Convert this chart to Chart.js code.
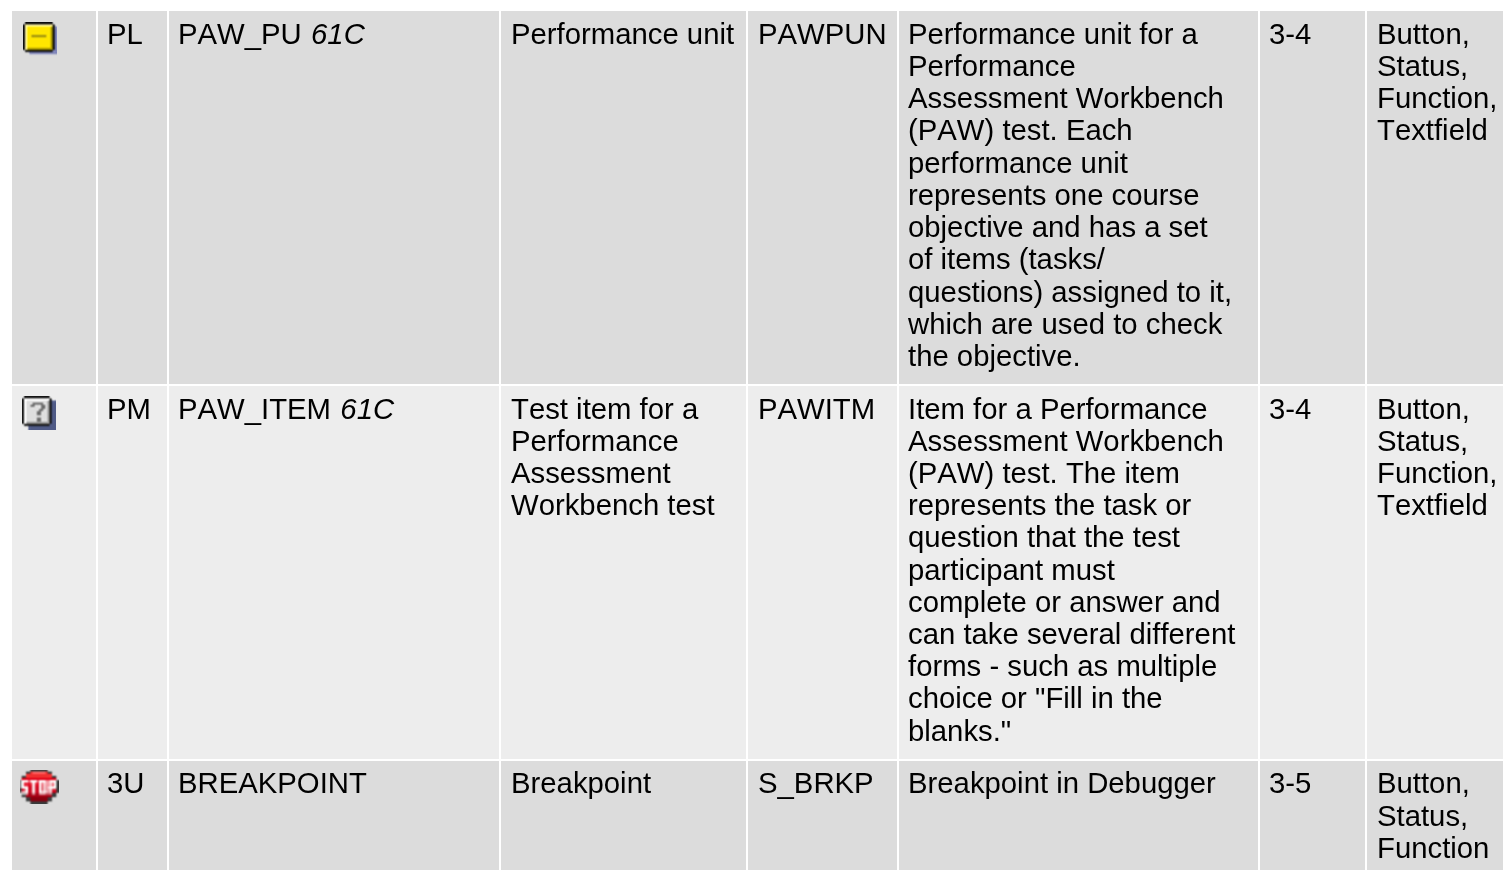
<!DOCTYPE html>
<html lang="en">
<head>
<meta charset="UTF-8" />
<title>SAP icons</title>
<script src="https://cdn.jsdelivr.net/npm/chart.js@4/dist/chart.umd.min.js"></script>
<style>
   html, body { margin: 0; padding: 0; background: #fff; overflow: hidden; }
   canvas { display: block; }
</style>
</head>
<body>
<canvas id="chart" width="1503" height="870"></canvas>
<script>
// table contents, one entry per row
const codes = ['PL', 'PM', '3U'];
const names = ['PAW_PU', 'PAW_ITEM', 'BREAKPOINT'];
const nameSuffixes = ['61C', '61C', ''];
const shortTexts = [
   ['Performance unit'],
   ['Test item for a', 'Performance', 'Assessment', 'Workbench test'],
   ['Breakpoint'],
];
const infoNames = ['PAWPUN', 'PAWITM', 'S_BRKP'];
const descriptions = [
   ['Performance unit for a', 'Performance', 'Assessment Workbench', '(PAW) test. Each', 'performance unit', 'represents one course', 'objective and has a set', 'of items (tasks/', 'questions) assigned to it,', 'which are used to check', 'the objective.'],
   ['Item for a Performance', 'Assessment Workbench', '(PAW) test. The item', 'represents the task or', 'question that the test', 'participant must', 'complete or answer and', 'can take several different', 'forms - such as multiple', 'choice or "Fill in the', 'blanks."'],
   ['Breakpoint in Debugger'],
];
const releases = ['3-4', '3-4', '3-5'];
const usages = [
   ['Button,', 'Status,', 'Function,', 'Textfield'],
   ['Button,', 'Status,', 'Function,', 'Textfield'],
   ['Button,', 'Status,', 'Function'],
];

// table grid on the 1503x870 page
const columnStarts = [12, 98, 169, 501, 748, 899, 1260, 1367];
const columnEnds = [96, 167, 499, 746, 897, 1258, 1365, 1503];
const textInsets = [0, 9, 9, 10, 10, 9, 9, 10];
const rowStarts = [11, 386, 761];
const rowEnds = [384, 759, 870];
const firstBaselines = [32.85, 32.6, 32.4];
const rowColors = ['#dcdcdc', '#ededed', '#dcdcdc'];

const FONT_SIZE = 29.3;
const LINE_HEIGHT = 32.21;
const TEXT_FONT = 'Liberation Sans';
const ICON_SCALE = 2.15;
const SUFFIX_GAP = 1.2;

// the icons are small pixel images in the original, so draw them small and scale up
function pixelIcon(w, h, rects) {
   const small = document.createElement('canvas');
   small.width = w;
   small.height = h;
   const g = small.getContext('2d');
   rects.forEach(([color, x, y, rw, rh]) => {
      g.fillStyle = color;
      g.fillRect(x, y, rw, rh);
   });
   const big = document.createElement('canvas');
   big.width = Math.round(w * ICON_SCALE);
   big.height = Math.round(h * ICON_SCALE);
   const b = big.getContext('2d');
   b.imageSmoothingEnabled = true;
   b.imageSmoothingQuality = 'high';
   b.drawImage(small, 0, 0, big.width, big.height);
   return big;
}

const iconYellow = pixelIcon(16, 16, [
   ['#7e84b8', 3, 2, 13, 13],
   ['#111111', 1, 0, 13, 14],
   ['#111111', 0, 1, 15, 12],
   ['#ffe600', 1, 1, 13, 12],
   ['#fff59a', 1, 1, 13, 1],
   ['#fff59a', 1, 1, 1, 12],
   ['#a89800', 2, 12, 12, 1],
   ['#a89800', 13, 2, 1, 11],
   ['#9c9010', 4, 6, 7, 1],
]);

const iconHelp = pixelIcon(16, 16, [
   ['#4f5a86', 3, 2, 13, 14],
   ['#1a1a1a', 1, 0, 12, 14],
   ['#1a1a1a', 0, 1, 14, 12],
   ['#dedede', 1, 1, 12, 12],
   ['#ffffff', 1, 1, 12, 1],
   ['#ffffff', 1, 1, 1, 12],
   ['#9a9a9a', 2, 12, 11, 1],
   ['#9a9a9a', 12, 2, 1, 11],
   ['#747474', 5, 3, 5, 1],
   ['#747474', 4, 4, 2, 1],
   ['#747474', 9, 4, 2, 2],
   ['#747474', 8, 6, 2, 1],
   ['#747474', 7, 7, 2, 2],
   ['#747474', 7, 10, 2, 2],
]);

const iconStop = pixelIcon(18, 16, [
   ['#3a3a3a', 5, 0, 8, 16],
   ['#3a3a3a', 3, 1, 12, 14],
   ['#3a3a3a', 1, 3, 16, 10],
   ['#3a3a3a', 0, 5, 18, 6],
   ['#f03030', 5, 1, 8, 3],
   ['#f03030', 3, 2, 12, 2],
   ['#ff6a6a', 6, 1, 6, 1],
   ['#e00018', 1, 4, 16, 4],
   ['#cc0018', 1, 8, 16, 3],
   ['#a80014', 3, 11, 12, 2],
   ['#880010', 5, 13, 8, 2],
   // S
   ['#ffffff', 0.6, 5, 3.4, 1.2], ['#ffffff', 0.6, 6, 1.4, 2], ['#ffffff', 0.6, 7.8, 3.4, 1.2],
   ['#ffffff', 2.6, 8.6, 1.4, 2.4], ['#ffffff', 0.6, 10.4, 3.4, 1.2],
   // T
   ['#ffffff', 4.6, 5, 3.8, 1.2], ['#ffffff', 5.8, 6, 1.4, 5.6],
   // O
   ['#ffffff', 9, 5, 3.6, 1.2], ['#ffffff', 9, 6, 1.4, 5], ['#ffffff', 11.2, 6, 1.4, 5], ['#ffffff', 9, 10.4, 3.6, 1.2],
   // P
   ['#ffffff', 13.4, 5, 3.6, 1.2], ['#ffffff', 13.4, 6, 1.4, 5.6], ['#ffffff', 15.6, 6, 1.4, 2.4], ['#ffffff', 13.4, 8, 3.6, 1.2],
]);

const rowIcons = [iconYellow, iconHelp, iconStop];
const iconX = [39.9, 38.9, 39];
const iconY = [39.3, 413.2, 786.5];

// each row is one dataset of floating bars, so it can have its own height
const rowDatasets = codes.map((code, r) => ({
   type: 'bar',
   label: code,
   stack: 'table',
   data: columnStarts.map((start, c) => ({
      x: [start, columnEnds[c]],
      y: (rowStarts[r] + rowEnds[r]) / 2,
   })),
   backgroundColor: rowColors[r],
   barThickness: rowEnds[r] - rowStarts[r],
   inflateAmount: 0,
   borderWidth: 0,
}));

const iconDataset = {
   type: 'scatter',
   label: 'icons',
   order: -1,
   data: codes.map((code, r) => ({ x: iconX[r], y: iconY[r] })),
   pointStyle: rowIcons,
   pointRadius: 10,
   showLine: false,
};

function drawLines(ctx, chart, column, row, lines) {
   const sx = chart.scales.x;
   const sy = chart.scales.y;
   lines.forEach((line, i) => {
      ctx.fillText(
         line,
         sx.getPixelForValue(columnStarts[column] + textInsets[column]),
         sy.getPixelForValue(rowStarts[row] + firstBaselines[row] + i * LINE_HEIGHT)
      );
   });
}

const cellText = {
   id: 'cellText',
   afterDatasetsDraw(chart) {
      const ctx = chart.ctx;
      ctx.save();
      ctx.fillStyle = '#000';
      ctx.textAlign = 'left';
      ctx.textBaseline = 'alphabetic';
      ctx.fontKerning = 'none';
      codes.forEach((code, r) => {
         ctx.font = `${FONT_SIZE}px "${TEXT_FONT}"`;
         drawLines(ctx, chart, 1, r, [code]);
         drawLines(ctx, chart, 2, r, [names[r]]);
         drawLines(ctx, chart, 3, r, shortTexts[r]);
         drawLines(ctx, chart, 4, r, [infoNames[r]]);
         drawLines(ctx, chart, 5, r, descriptions[r]);
         drawLines(ctx, chart, 6, r, [releases[r]]);
         drawLines(ctx, chart, 7, r, usages[r]);
         if (nameSuffixes[r]) {
            const w = ctx.measureText(names[r] + ' ').width;
            ctx.font = `italic ${FONT_SIZE}px "${TEXT_FONT}"`;
            ctx.fillText(
               nameSuffixes[r],
               chart.scales.x.getPixelForValue(columnStarts[2] + textInsets[2]) + w + SUFFIX_GAP,
               chart.scales.y.getPixelForValue(rowStarts[r] + firstBaselines[r])
            );
         }
      });
      ctx.restore();
   },
};

new Chart(document.getElementById('chart').getContext('2d'), {
   data: { datasets: [...rowDatasets, iconDataset] },
   options: {
      indexAxis: 'y',
      responsive: false,
      animation: false,
      layout: { padding: 0, autoPadding: false },
      plugins: { legend: { display: false }, tooltip: { enabled: false } },
      scales: {
         x: { type: 'linear', min: 0, max: 1503, display: false, offset: false },
         y: { type: 'linear', min: 0, max: 870, reverse: true, display: false, offset: false },
      },
   },
   plugins: [cellText],
});
</script>
</body>
</html>
